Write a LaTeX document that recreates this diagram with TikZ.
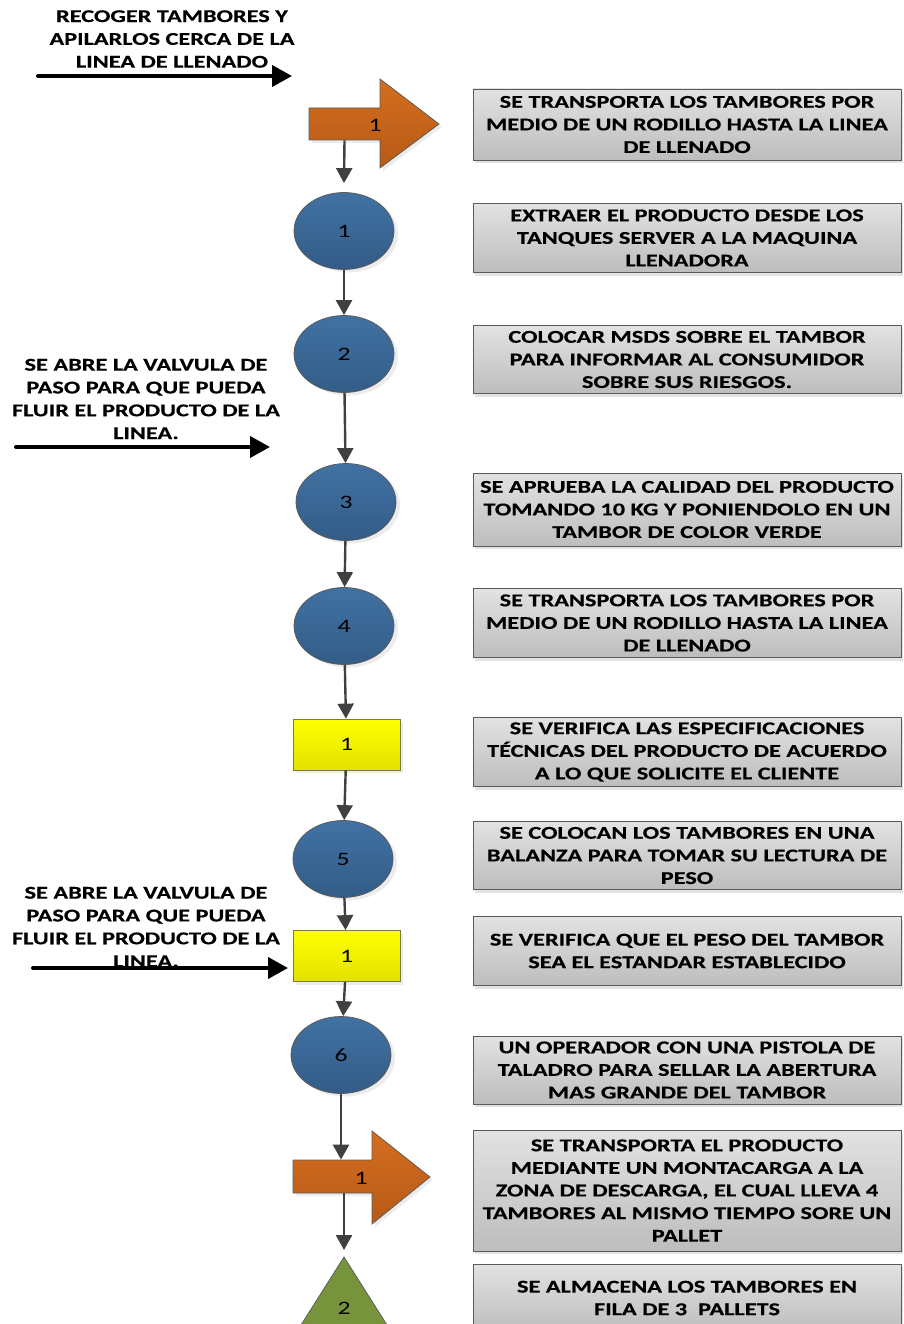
\documentclass[tikz,border=0pt]{standalone}
\usepackage{fontspec}
\setmainfont{Carlito}[FakeStretch=1.35,BoldFeatures={FakeBold=0.4}]
\usepackage{tikz}
\usetikzlibrary{arrows.meta,shapes.geometric,shadows}
\definecolor{boxtop}{HTML}{E2E2E2}
\definecolor{boxbot}{HTML}{BDBDBD}
\definecolor{boxline}{HTML}{5A5A5A}
\definecolor{circtop}{HTML}{4172A3}
\definecolor{circbot}{HTML}{335C87}
\definecolor{flechtop}{HTML}{D46E1F}
\definecolor{flechbot}{HTML}{B65A17}
\definecolor{amartop}{HTML}{FFFF00}
\definecolor{amarbot}{HTML}{E2E200}
\definecolor{almacen}{HTML}{77933C}
\definecolor{conector}{HTML}{404040}
\tikzset{every picture/.style={line width=0.75pt}}

\begin{document}
\begin{tikzpicture}[x=1pt,y=1pt,yscale=-1,xscale=1,
	paso/.style={draw=boxline,top color=boxtop,bottom color=boxbot,minimum width=428,align=center,
		font=\fontsize{18}{22.6}\selectfont\bfseries,
		drop shadow={shadow xshift=2pt,shadow yshift=-3pt,fill=black!22}},
	operacion/.style={ellipse,draw=boxline,top color=circtop,bottom color=circbot,minimum width=100,minimum height=77,
		font=\fontsize{19}{20}\selectfont,
		drop shadow={shadow xshift=4pt,shadow yshift=-3pt,fill=black!15}},
	inspeccion/.style={draw=boxline!80!yellow,top color=amartop,bottom color=amarbot,minimum width=107,minimum height=51,
		font=\fontsize{19}{20}\selectfont,
		drop shadow={shadow xshift=3pt,shadow yshift=-3pt,fill=black!15}},
	flecha/.style={draw=boxline,top color=flechtop,bottom color=flechbot,
		drop shadow={shadow xshift=3pt,shadow yshift=-3pt,fill=black!15}},
	nota/.style={align=center,font=\fontsize{18}{22.8}\selectfont\bfseries},
	num/.style={font=\fontsize{19}{20}\selectfont},
	enlace/.style={draw=conector,line width=2.4pt,-{Triangle[length=15pt,width=16pt]}},
	entrada/.style={draw=black,line width=4pt,line cap=round,-{Triangle[length=20pt,width=21pt]}}]
		\useasboundingbox (0,0) rectangle (903,1324);
		
		% Text Node
		\node[nota] (txtrecoger) at (172,39) {RECOGER TAMBORES Y\\APILARLOS CERCA DE LA\\LINEA DE LLENADO};
		%Straight Lines
		\coordinate (ent1a) at (38,76);
		\coordinate (ent1b) at (292,76);
		\draw[entrada] (ent1a) -- (ent1b);
		
		%Shape: Right Arrow
		\path[flecha] (309,108) -- (380,108) -- (380,79) -- (439,124) -- (380,168) -- (380,140) -- (309,140) -- cycle;
		\node[minimum width=71,minimum height=32,inner sep=0] (flecha1) at (344.5,124) {};
		\node[num] (nflecha1) at (375,125) {1};
		
		%Shape: Rectangle
		\node[paso,minimum height=71] (paso1) at (687,124.5) {SE TRANSPORTA LOS TAMBORES POR\\MEDIO DE UN RODILLO HASTA LA LINEA\\DE LLENADO};
		\node[paso,minimum height=69] (paso2) at (687,238) {EXTRAER EL PRODUCTO DESDE LOS\\TANQUES SERVER A LA MAQUINA\\LLENADORA};
		\node[paso,minimum height=68] (paso3) at (687,359.5) {COLOCAR MSDS SOBRE EL TAMBOR\\PARA INFORMAR AL CONSUMIDOR\\SOBRE SUS RIESGOS.};
		\node[paso,minimum height=73] (paso4) at (687,509.5) {SE APRUEBA LA CALIDAD DEL PRODUCTO\\TOMANDO 10 KG Y PONIENDOLO EN UN\\TAMBOR DE COLOR VERDE};
		\node[paso,minimum height=69] (paso5) at (687,623) {SE TRANSPORTA LOS TAMBORES POR\\MEDIO DE UN RODILLO HASTA LA LINEA\\DE LLENADO};
		\node[paso,minimum height=69] (paso6) at (687,752) {SE VERIFICA LAS ESPECIFICACIONES\\TÉCNICAS DEL PRODUCTO DE ACUERDO\\A LO QUE SOLICITE EL CLIENTE};
		\node[paso,minimum height=68] (paso7) at (687,855.5) {SE COLOCAN LOS TAMBORES EN UNA\\BALANZA PARA TOMAR SU LECTURA DE\\PESO};
		\node[paso,minimum height=69] (paso8) at (687,951) {SE VERIFICA QUE EL PESO DEL TAMBOR\\SEA EL ESTANDAR ESTABLECIDO};
		\node[paso,minimum height=68] (paso9) at (687,1070) {UN OPERADOR CON UNA PISTOLA DE\\TALADRO PARA SELLAR LA ABERTURA\\MAS GRANDE DEL TAMBOR};
		\node[paso,minimum height=121] (paso10) at (687,1190.5) {SE TRANSPORTA EL PRODUCTO\\MEDIANTE UN MONTACARGA A LA\\ZONA DE DESCARGA, EL CUAL LLEVA 4\\TAMBORES AL MISMO TIEMPO SORE UN\\PALLET};
		\node[paso,minimum height=68] (paso11) at (687,1298) {SE ALMACENA LOS TAMBORES EN\\FILA DE 3~~PALLETS};
		
		%Shape: Ellipse
		\node[operacion] (op1) at (344,231) {1};
		\node[operacion] (op2) at (344,354) {2};
		\node[operacion] (op3) at (346,502) {3};
		\node[operacion] (op4) at (344,626) {4};
		\node[operacion] (op5) at (343,859) {5};
		\node[operacion] (op6) at (341,1055) {6};
		
		%Shape: Rectangle
		\node[inspeccion] (insp1) at (346.5,744.5) {1};
		\node[inspeccion] (insp2) at (346.5,956) {1};
		
		%Shape: Right Arrow
		\path[flecha] (293,1160) -- (372,1160) -- (372,1131) -- (430,1177) -- (372,1224) -- (372,1193) -- (293,1193) -- cycle;
		\node[minimum width=79,minimum height=33,inner sep=0] (flecha2) at (332.5,1176.5) {};
		\node[num] (nflecha2) at (361,1178) {1};
		
		%Shape: Triangle
		\path[draw=boxline,fill=almacen] (344,1257) -- (394,1336) -- (294,1336) -- cycle;
		\coordinate (alm) at (344,1257);
		\node[num] (nalm) at (344,1308) {2};
		
		% Text Node
		\node[nota] (txtvalvula1) at (146,399) {SE ABRE LA VALVULA DE\\PASO PARA QUE PUEDA\\FLUIR EL PRODUCTO DE LA\\LINEA.};
		\coordinate (ent2a) at (16,447);
		\coordinate (ent2b) at (270,447);
		\draw[entrada] (ent2a) -- (ent2b);
		
		% Text Node
		\node[nota] (txtvalvula2) at (146,927) {SE ABRE LA VALVULA DE\\PASO PARA QUE PUEDA\\FLUIR EL PRODUCTO DE LA\\LINEA.};
		\coordinate (ent3a) at (33,968);
		\coordinate (ent3b) at (288,968);
		\draw[entrada] (ent3a) -- (ent3b);
		
		%Straight Lines
		\draw[enlace] (flecha1.south) -- ([yshift=-9pt]op1.north);
		\draw[enlace] (op1) -- (op2);
		\draw[enlace] (op2) -- (op3);
		\draw[enlace] (op3) -- (op4);
		\draw[enlace] (op4) -- (insp1);
		\draw[enlace] (insp1) -- (op5);
		\draw[enlace] (op5) -- (insp2);
		\draw[enlace] (insp2) -- (op6);
		\draw[enlace] (op6.south) -- (op6.south |- flecha2.north);
		\draw[enlace] (alm |- flecha2.south) -- ([yshift=-7pt]alm);
		
\end{tikzpicture}
\end{document}
